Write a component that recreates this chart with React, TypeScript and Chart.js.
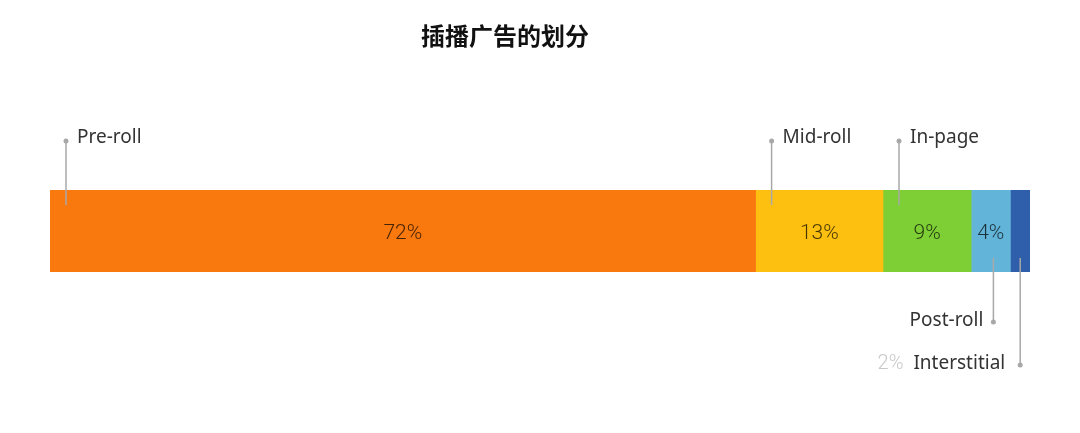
import { useEffect, useRef } from "react";
import { Chart, registerables, Plugin } from "chart.js";

Chart.register(...registerables);

const categories = ["Pre-roll", "Mid-roll", "In-page", "Post-roll", "Interstitial"];
const shares = [72, 13, 9, 4, 2];
const colors = ["#FA790F", "#FDC011", "#7ECF36", "#63B4D9", "#2F5EAB"];
// label placement: "top" labels sit above the bar, "bottom" ones below it
const labelSide = ["top", "top", "top", "bottom", "bottom"];

const TITLE = "插播广告的划分";
const FONT = "'Noto Sans', sans-serif";

const labelsPlugin: Plugin<"bar"> = {
  id: "leaderLabels",
  afterDatasetsDraw(chart) {
    const ctx = chart.ctx;
    ctx.save();

    // title
    ctx.fillStyle = "#111";
    ctx.font = "bold 24px 'Noto Sans CJK SC', sans-serif";
    ctx.textAlign = "center";
    ctx.textBaseline = "middle";
    ctx.fillText(TITLE, 505, 36);

    chart.data.datasets.forEach((ds, i) => {
      const bar: any = chart.getDatasetMeta(i).data[0];
      if (!bar) return;
      const left = Math.min(bar.base, bar.x);
      const right = Math.max(bar.base, bar.x);
      const top = bar.y - bar.height / 2;
      const bottom = bar.y + bar.height / 2;
      const value = ds.data[0] as number;

      // value inside segment
      if (value >= 4) {
        ctx.fillStyle = "rgba(0,0,0,0.72)";
        ctx.font = "300 21px Roboto, sans-serif";
        ctx.textAlign = "center";
        ctx.textBaseline = "middle";
        ctx.fillText(value + "%", (left + right) / 2, bar.y + 3);
      }

      ctx.strokeStyle = "#a8a8a8";
      ctx.fillStyle = "#a8a8a8";
      ctx.lineWidth = 1.5;
      ctx.font = "19px " + FONT;
      ctx.textBaseline = "middle";

      if (labelSide[i] === "top") {
        const lx = left + 16;
        const dotY = top - 49;
        ctx.beginPath();
        ctx.moveTo(lx, top + 15);
        ctx.lineTo(lx, dotY);
        ctx.stroke();
        ctx.beginPath();
        ctx.arc(lx, dotY, 2.5, 0, Math.PI * 2);
        ctx.fill();
        ctx.fillStyle = "#333";
        ctx.textAlign = "left";
        ctx.fillText(ds.label as string, lx + 11, dotY - 3);
      } else {
        const lx = value >= 4 ? right - 17 : (left + right) / 2;
        const dotY = value >= 4 ? bottom + 50 : bottom + 93;
        ctx.beginPath();
        ctx.moveTo(lx, bottom - 14);
        ctx.lineTo(lx, dotY);
        ctx.stroke();
        ctx.beginPath();
        ctx.arc(lx, dotY, 2.5, 0, Math.PI * 2);
        ctx.fill();
        ctx.fillStyle = "#333";
        ctx.textAlign = "right";
        const tx = lx - (value >= 4 ? 10 : 15);
        ctx.fillText(ds.label as string, tx, dotY - 1);
        if (value < 4) {
          const w = ctx.measureText(ds.label as string).width;
          ctx.fillStyle = "#c8c8c8";
          ctx.font = "300 20px Roboto, sans-serif";
          ctx.fillText(value + "%", tx - w - 10, dotY - 1);
        }
      }
    });
    ctx.restore();
  },
};

function App() {
  const canvasRef = useRef<HTMLCanvasElement | null>(null);
  const chartRef = useRef<Chart | null>(null);

  useEffect(() => {
    document.body.style.margin = "0";
    if (!canvasRef.current) return;
    chartRef.current?.destroy();
    chartRef.current = new Chart(canvasRef.current, {
      type: "bar",
      data: {
        labels: [""],
        datasets: categories.map((name, i) => ({
          label: name,
          data: [shares[i]],
          backgroundColor: colors[i],
          borderWidth: 0,
          categoryPercentage: 1,
          barPercentage: 1,
        })),
      },
      options: {
        indexAxis: "y",
        animation: false,
        responsive: false,
        layout: { padding: { left: 50, right: 50, top: 190, bottom: 161 } },
        plugins: {
          legend: { display: false },
          title: { display: false },
          tooltip: { enabled: false },
        },
        scales: {
          x: { stacked: true, min: 0, max: 100, display: false },
          y: { stacked: true, display: false },
        },
      },
      plugins: [labelsPlugin],
    });
    return () => {
      chartRef.current?.destroy();
      chartRef.current = null;
    };
  }, []);

  return (
    <div style={{ width: 1080, height: 433, background: "#fff" }}>
      <canvas ref={canvasRef} width={1080} height={433} style={{ width: 1080, height: 433 }} />
    </div>
  );
}

export default App;
